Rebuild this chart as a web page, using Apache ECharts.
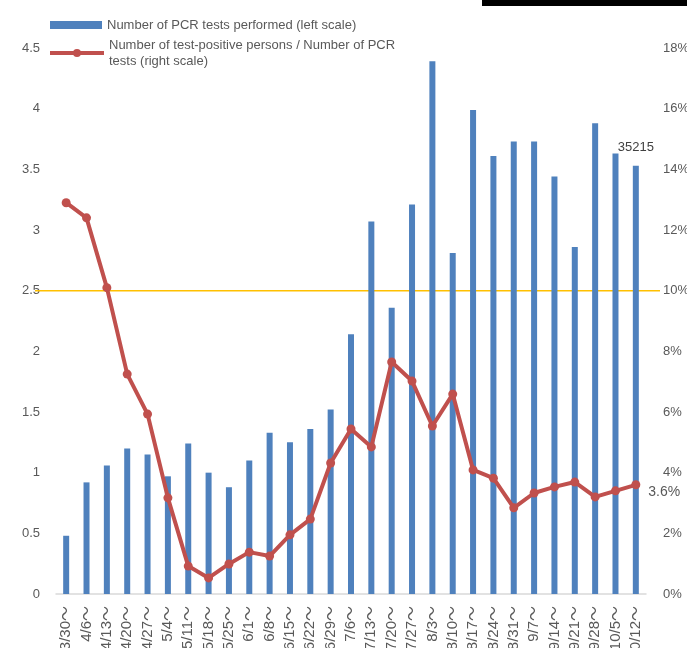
<!DOCTYPE html>
<html>
<head>
<meta charset="UTF-8">
<title>PCR tests</title>
<script type="text/javascript" src="https://cdn.jsdelivr.net/npm/echarts@6/dist/echarts.min.js"></script>
</head>
<body style="margin:0;">
<div id="mychar" style="width:687px;height:648px;"></div>

<script type="text/javascript">

// week start dates
var weeks = ['3/30～','4/6～','4/13～','4/20～','4/27～','5/4～','5/11～','5/18～','5/25～','6/1～','6/8～','6/15～','6/22～','6/29～','7/6～','7/13～','7/20～','7/27～','8/3～','8/10～','8/17～','8/24～','8/31～','9/7～','9/14～','9/21～','9/28～','10/5～','10/12～'];
// PCR tests (left scale, x10,000)
var tests = [0.48,0.92,1.06,1.20,1.15,0.97,1.24,1.00,0.88,1.10,1.33,1.25,1.36,1.52,2.14,3.07,2.36,3.21,4.39,2.81,3.99,3.61,3.73,3.73,3.44,2.86,3.88,3.63,3.53];
// positive rate % (right scale)
var positiveRate = [12.9,12.4,10.1,7.25,5.93,3.17,0.92,0.53,0.99,1.38,1.25,1.95,2.47,4.32,5.44,4.85,7.65,7.02,5.54,6.59,4.09,3.82,2.84,3.33,3.53,3.69,3.2,3.4,3.6];
var leftTicks = [0, 4.5, 0.5];
var rightTicks = [0, 18, 2];
var refLine = 10;
var lastTestLabel = '35215';
var lastRateLabel = '3.6%';

var barName = 'Number of PCR tests performed (left scale)';
var lineName = 'Number of test-positive persons / Number of PCR tests (right scale)';

var grey = '#595959';
var mychart = echarts.init(document.getElementById('mychar'));

var barData = tests.map(function (v, i) {
  if (i === tests.length - 1) {
    return { value: v, label: { show: true, position: 'top', distance: 12, formatter: lastTestLabel, color: '#404040', fontSize: 13 } };
  }
  return v;
});
var lineData = positiveRate.map(function (v, i) {
  if (i === positiveRate.length - 1) {
    return { value: v, label: { show: true, position: 'right', distance: 6, offset: [2, 7], formatter: lastRateLabel, color: grey, fontSize: 14 } };
  }
  return v;
});

var legendText = { color: grey, fontSize: 13, lineHeight: 16 };

var option = {
  animation: false,
  textStyle: { fontFamily: 'Liberation Sans, Arial, sans-serif' },
  legend: [
    {
      left: 50, top: 17, padding: 0,
      itemWidth: 52, itemHeight: 8, itemGap: 0,
      textStyle: legendText,
      data: [{ name: barName, icon: 'rect' }]
    },
    {
      left: 48, top: 37, padding: 0,
      itemWidth: 54, itemHeight: 10, itemGap: 0,
      textStyle: legendText,
      formatter: function (name) {
        return name.replace('Number of PCR tests (right', 'Number of PCR\ntests (right');
      },
      data: [{ name: lineName, lineStyle: { width: 4, color: '#c0504d' } }]
    }
  ],
  grid: { left: 56, right: 41, top: 48, bottom: 54, containLabel: false, outerBoundsMode: 'none' },
  xAxis: {
    type: 'category',
    data: weeks,
    axisLine: { lineStyle: { color: '#d9d9d9', width: 1.5 } },
    axisTick: { show: false },
    axisLabel: { rotate: 90, color: grey, fontSize: 15, margin: 12, interval: 0,
      fontFamily: 'Liberation Sans, Noto Sans CJK JP, sans-serif' }
  },
  yAxis: [
    {
      type: 'value', min: leftTicks[0], max: leftTicks[1], interval: leftTicks[2],
      splitLine: { show: false }, axisLine: { show: false }, axisTick: { show: false },
      axisLabel: { color: grey, fontSize: 13, margin: 16 }
    },
    {
      type: 'value', min: rightTicks[0], max: rightTicks[1], interval: rightTicks[2],
      splitLine: { show: false }, axisLine: { show: false }, axisTick: { show: false },
      axisLabel: { color: grey, fontSize: 13, margin: 17, formatter: '{value}%' }
    }
  ],
  series: [
    {
      name: barName,
      type: 'bar',
      yAxisIndex: 0,
      barWidth: 6,
      itemStyle: { color: '#4f81bd' },
      data: barData
    },
    {
      name: lineName,
      type: 'line',
      yAxisIndex: 1,
      symbol: 'circle',
      symbolSize: 9,
      lineStyle: { color: '#c0504d', width: 4 },
      itemStyle: { color: '#c0504d' },
      data: lineData
    }
  ]
};

mychart.setOption(option);

var yRef = mychart.convertToPixel({ yAxisIndex: 1 }, refLine);
mychart.setOption({
  graphic: [
    { type: 'line', shape: { x1: 35, y1: yRef, x2: 660, y2: yRef }, style: { stroke: '#ffc000', lineWidth: 1.5 }, z: 1 },
    { type: 'rect', shape: { x: 482, y: 0, width: 205, height: 6 }, style: { fill: '#000' } }
  ]
});
</script>
</body>
</html>
